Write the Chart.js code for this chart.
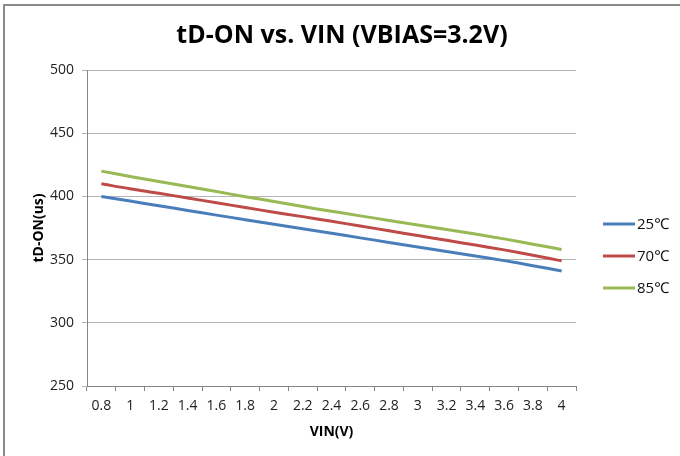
<!DOCTYPE html>
<html>
<head>
<meta charset="utf-8">
<script src="https://cdn.jsdelivr.net/npm/chart.js@4"></script>
<style>
  html, body { margin: 0; padding: 0; background: #fff; overflow: hidden; }
  #wrap { position: relative; width: 680px; height: 456px; }
  #frame { position: absolute; left: 3px; top: 4px; width: 800px; height: 600px;
           border-top: 2px solid #8a8a8a; border-left: 2px solid #8a8a8a; pointer-events: none; }
  canvas { position: absolute; left: 0; top: 0; }
</style>
</head>
<body>
<div id="wrap">
  <canvas id="chart" width="680" height="456"></canvas>
  <div id="frame"></div>
</div>
<script>
const vin = ['0.8','1','1.2','1.4','1.6','1.8','2','2.2','2.4','2.6','2.8','3','3.2','3.4','3.6','3.8','4'];
const t25 = [400, 396.3, 392.6, 388.9, 385.2, 381.6, 378, 374.4, 370.8, 367.2, 363.6, 360, 356.4, 352.8, 349.2, 345.2, 341];
const t70 = [410, 406, 402.5, 398.7, 395, 391.2, 387.5, 384, 380.3, 376.6, 372.8, 369, 365.3, 361.5, 357.7, 353.5, 349];
const t85 = [420, 415.8, 411.8, 407.8, 403.8, 399.8, 396, 392, 388.2, 384.6, 381, 377.4, 373.8, 370.2, 366.4, 362.2, 358];
const seriesNames = ['25℃', '70℃', '85℃'];
const seriesColors = ['#4a7ebb', '#be4b48', '#98b954'];

const fontFam = '"Open Sans", "Noto Sans", "Noto Sans CJK SC", sans-serif';

// legend drawn by hand so it sits where the original one is
const sideLegend = {
  id: 'sideLegend',
  afterDraw(chart) {
    const c = chart.ctx;
    const area = chart.chartArea;
    const mid = (area.top + area.bottom) / 2 + 28;
    c.save();
    c.font = '15px ' + fontFam;
    c.textBaseline = 'middle';
    chart.data.datasets.forEach((ds, i) => {
      const y = mid + (i - 1) * 32;
      c.strokeStyle = ds.borderColor;
      c.lineWidth = 3;
      c.beginPath();
      c.moveTo(area.right + 27, y);
      c.lineTo(area.right + 59, y);
      c.stroke();
      c.fillStyle = '#111';
      c.fillText(ds.label, area.right + 61, y + 1);
    });
    c.restore();
  }
};

new Chart(document.getElementById('chart'), {
  type: 'line',
  data: {
    labels: vin,
    datasets: [t25, t70, t85].map((d, i) => ({
      label: seriesNames[i],
      data: d,
      borderColor: seriesColors[i],
      backgroundColor: seriesColors[i],
      borderWidth: 3,
      pointRadius: 0,
      tension: 0.3,
      fill: false
    }))
  },
  options: {
    responsive: false,
    animation: false,
    layout: { padding: { left: 4, right: 0, top: 4, bottom: 0 } },
    plugins: {
      legend: { display: false },
      tooltip: { enabled: false },
      title: {
        display: true,
        text: 'tD-ON vs. VIN (VBIAS=3.2V)',
        color: '#000',
        font: { family: fontFam, size: 25, weight: 'bold' },
        padding: { top: 17, bottom: 19 }
      }
    },
    scales: {
      x: {
        offset: true,
        grid: { display: true, drawOnChartArea: false, drawTicks: true, tickLength: 5, color: '#868686', offset: true },
        border: { display: true, color: '#868686', width: 1 },
        ticks: { color: '#222', font: { family: fontFam, size: 14 }, padding: 7, maxRotation: 0, autoSkip: false },
        title: { display: true, text: 'VIN(V)', color: '#000', font: { family: fontFam, size: 14, weight: 'bold' }, padding: { top: 0, bottom: 16 } },
        afterFit(scale) { scale.height = 70; }
      },
      y: {
        min: 250,
        max: 500,
        ticks: { stepSize: 50, color: '#222', font: { family: fontFam, size: 14 }, padding: 8 },
        grid: { color: '#b5b5b5', tickLength: 5, drawTicks: true },
        border: { display: true, color: '#868686', width: 1 },
        title: { display: true, text: 'tD-ON(us)', color: '#000', font: { family: fontFam, size: 14, weight: 'bold' }, padding: { top: 27, bottom: 0 } },
        afterFit(scale) { scale.width = 83; }
      },
      // empty axis on the right that only reserves room for the legend
      side: {
        position: 'right',
        display: true,
        ticks: { display: false },
        grid: { display: false },
        border: { display: false },
        afterFit(scale) { scale.width = 104; }
      }
    }
  },
  plugins: [sideLegend]
});
</script>
</body>
</html>
